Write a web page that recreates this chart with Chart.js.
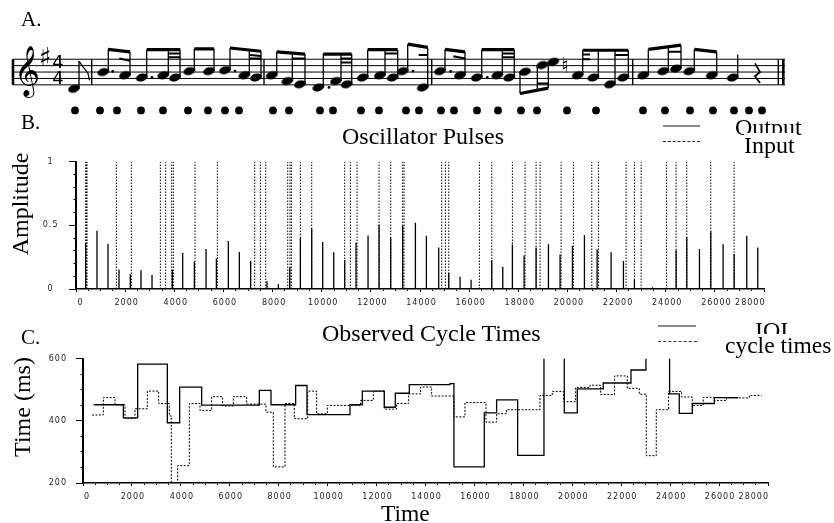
<!DOCTYPE html>
<html>
<head>
<meta charset="utf-8">
<title>Oscillator Pulses</title>
<script src="https://cdn.jsdelivr.net/npm/chart.js@4/dist/chart.umd.min.js"></script>
<style>
	html, body { margin: 0; padding: 0; background: #fff; }
	#page { position: relative; width: 834px; height: 523px; overflow: hidden; }
	canvas { position: absolute; left: 0; }
	.label { position: absolute; font-family: "Liberation Serif", serif; color: #000; white-space: nowrap; line-height: 1; }
	.swatch { position: absolute; height: 0; }
</style>
</head>
<body>
<div id="page">
	<canvas id="score" width="834" height="122" style="top:0"></canvas>
	<canvas id="pulses" width="834" height="168" style="top:145px"></canvas>
	<canvas id="cycles" width="834" height="162" style="top:345px"></canvas>
</div>
<script>

// panel B
var inputTimes = [393, 430, 448, 1642, 2252, 3433, 3650, 3894, 3962, 4844, 5753, 7273, 7503, 7720, 8616, 8711, 8765, 9132, 9593, 10936, 11167, 11438, 12334, 12808, 13297, 13351, 14885, 15034, 15170, 16418, 16920, 17761, 18277, 18725, 18887, 19742, 20244, 20991, 21262, 22388, 22727, 23000, 24030, 24423, 24857, 25834, 26784];
var outputTimes = [393, 855, 1303, 1750, 2211, 2646, 3094, 3921, 4342, 4817, 5292, 5713, 6200, 6648, 7109, 7774, 8236, 8697, 9132, 9593, 10041, 10489, 10936, 11397, 11886, 12334, 12808, 13297, 13813, 14260, 14762, 15170, 15631, 16079, 16472, 16920, 17368, 17761, 18236, 18725, 19227, 19701, 20204, 20692, 21208, 21778, 22280, 22727, 23461, 23977, 24423, 24857, 25373, 25834, 26337, 26784, 27299, 27747];
var outputAmps = [0.356, 0.457, 0.356, 0.154, 0.115, 0.147, 0.11, 0.151, 0.284, 0.214, 0.315, 0.24, 0.377, 0.29, 0.22, 0.06, 0.04, 0.17, 0.4, 0.474, 0.37, 0.288, 0.226, 0.363, 0.42, 0.505, 0.406, 0.5, 0.52, 0.418, 0.327, 0.127, 0.096, 0.072, 0.007, 0.226, 0.173, 0.349, 0.264, 0.327, 0.351, 0.272, 0.339, 0.425, 0.312, 0.288, 0.221, 0.075, 0.014, 0.007, 0.305, 0.406, 0.315, 0.452, 0.351, 0.276, 0.418, 0.327];

// panel C
var ioiTimes = [436, 1650, 2235, 3447, 3951, 4850, 7207, 7684, 8692, 9155, 10913, 11417, 12316, 12766, 13338, 15000, 15163, 16403, 16907, 17766, 18842, 19673, 20204, 21266, 22398, 23011, 23978, 24373, 24905, 25805, 26785];
var ioiValues = [452, 410, 583, 394, 509, 451, 498, 452, 514, 420, 452, 496, 444, 489, 517, 520, 252, 426, 468, 289, 720, 426, 503, 522, 564, 720, 487, 424, 456, 475, 475];
var cycleTimes = [368, 831, 1308, 1717, 2125, 2629, 3093, 3529, 3610, 3869, 4346, 4782, 5259, 5708, 6144, 6689, 7480, 7779, 8256, 8638, 9183, 9550, 9986, 10913, 11349, 11866, 12316, 12820, 13311, 13801, 14251, 15163, 15613, 16471, 16907, 17316, 18678, 19183, 19646, 20136, 20722, 21158, 21730, 22248, 22738, 23025, 23433, 23937, 24469, 24905, 25354, 25804, 26308, 27234, 27738];
var cycleValues = [419, 475, 452, 408, 439, 496, 456, 416, 150, 256, 456, 434, 478, 448, 478, 454, 428, 252, 456, 407, 496, 423, 450, 450, 466, 496, 438, 456, 487, 509, 480, 413, 459, 396, 423, 436, 482, 495, 462, 508, 515, 485, 545, 505, 486, 288, 436, 495, 477, 450, 476, 466, 474, 482, 482];

// panel A, x in score units, y in staff steps (bottom line = 0)
var onsetDots = [75, 100, 117, 141, 163, 188, 208, 225, 239, 273, 289, 320, 333, 361, 379, 406, 419, 441, 454, 477, 498, 521, 537, 567, 596, 643, 665, 690, 713, 734, 749, 762];
var noteX = [74, 103.3, 125, 141.7, 163.3, 175, 189.3, 209, 225, 244.3, 256, 271.7, 287.3, 300, 318.3, 336, 346.7, 362.7, 380, 392.7, 402.7, 422.7, 440, 460, 476.7, 497.3, 509.3, 525, 542.3, 553.3, 577.7, 593.3, 610, 623.3, 643.3, 663.3, 676, 689.3, 711.7, 732.7];
var notePos = [-1.2, 4, 3, 2.3, 3, 2.3, 4.3, 4.3, 4.6, 3, 2.3, 3, 1.2, 0.2, -0.8, 1.2, 0.2, 2.3, 3, 2.3, 4.3, -0.8, 4.3, 3, 2.3, 3, 2.3, 4.1, 6.2, 7.2, 3, 2.3, 0.2, 2.3, 3, 4.3, 5.1, 4.3, 3, 2.3];
var stemEnd = [7.4, 11.1, 10.3, 11, 11, 11, 11.25, 11.25, 11.5, 10.9, 10.5, 10.3, 10, 9.6, 9.6, 9.6, 9.6, 11, 11, 11, 12.7, 11.7, 11.1, 10.3, 11, 11, 11, -2.7, -1.6, -1, 10.8, 10.8, 10.8, 10.8, 11.1, 11.6, 12.4, 11.1, 10.3, 9.5];
var beamsMain = [[108, 11.1, 130, 10.3], [146.7, 11, 180.3, 11], [194.3, 11.25, 214, 11.25], [230, 11.5, 261, 10.5], [276.7, 10.3, 305, 9.6], [323.3, 9.6, 351.7, 9.6], [367.7, 11, 397.7, 11], [407.7, 12.7, 427.7, 11.7], [445, 11.1, 465, 10.3], [481.7, 11, 514.3, 11], [520, -2.7, 548.3, -1], [582.7, 10.8, 628.3, 10.8], [648.3, 11.1, 681, 12.4], [694.3, 11.1, 716.7, 10.3]];
var beamsSecond = [[119.3, 8.2, 130, 7.5], [168, 9.8, 180.3, 9.8], [168, 8.6, 180.3, 8.6], [250, 9.3, 261, 9], [250, 8.2, 261, 8.2], [292.3, 8.2, 305, 8.2], [341, 8.2, 351.7, 8.2], [341, 7, 351.7, 7], [385, 9.8, 397.7, 9.8], [418.7, 9.3, 427.7, 9.3], [453.3, 8.9, 465, 8.2], [502.3, 9.8, 514.3, 9.8], [502.3, 8.6, 514.3, 8.6], [537.3, 0.4, 548.3, 0.4], [582.7, 9.5, 590, 9.5], [582.7, 8, 590, 8], [615, 9.3, 628.3, 9.3], [668.3, 10.3, 681, 10.3]];
var augDotX = [112.7, 152, 235, 329, 413, 450.7, 487.3];
var augDotPos = [4.2, 2.3, 4.3, -0.8, 4.3, 4.2, 2.3];
var barlineX = [91.7, 264, 431.7, 632.7, 778.3];
var heavyBarX = [13, 783.3];
var flagX = [79, 83, 88, 89.5];
var flagPos = [7.4, 5.6, 3.6, 1.4];
var restX = [755, 760, 755, 760];
var restPos = [6.7, 4, 2.7, 0.6];
var glyphs = [
	{ text: "\uD834\uDD1E", x: 27, pos: 3.6, size: 44 },
	{ text: "\u266F", x: 45, pos: 8, size: 26 },
	{ text: "4", x: 58, pos: 6.6, size: 18 },
	{ text: "4", x: 58, pos: 1.6, size: 18 },
	{ text: "\u266E", x: 565, pos: 5.6, size: 22 }
];

var pageLabels = [
	{ text: "A.", x: 21, y: 9, size: 21 },
	{ text: "B.", x: 21, y: 112, size: 21 },
	{ text: "C.", x: 21, y: 327, size: 21 },
	{ text: "Oscillator Pulses", x: 342, y: 124, size: 24 },
	{ text: "Observed Cycle Times", x: 322, y: 321, size: 24 },
	{ text: "Output", x: 735, y: 115, size: 24 },
	{ text: "Input", x: 744, y: 133, size: 24, clear: true },
	{ text: "IOI", x: 755, y: 318, size: 24 },
	{ text: "cycle times", x: 725, y: 334, size: 23.5, clear: true },
	{ text: "Time", x: 381, y: 502, size: 23.5 },
	{ text: "Amplitude", x: 20, y: 204, size: 24, turn: true },
	{ text: "Time (ms)", x: 22, y: 407, size: 24, turn: true }
];
var legendLines = [
	{ x: 663, y: 125, w: 37, style: "2px solid #888" },
	{ x: 663, y: 141, w: 37, style: "1px dashed #222" },
	{ x: 658, y: 325, w: 38, style: "2px solid #888" },
	{ x: 658, y: 341, w: 39, style: "1px dashed #333" }
];

var TICK_FONT = { family: "'DejaVu Sans'", size: 8 };

function tallLines(xs, heights){

	var points = [];
	for (var i = 0; i < xs.length; i++) {
		points.push({ x: xs[i], y: 0 }, { x: xs[i], y: heights[i] }, { x: NaN, y: NaN });
	}
	return points;
}

function steps(xs, ys){

	return xs.map(function(x, i){ return { x: x, y: ys[i] }; });
}

function segments(list){

	var points = [];
	list.forEach(function(s){
		points.push({ x: s[0], y: s[1] }, { x: s[2], y: s[3] }, { x: NaN, y: NaN });
	});
	return points;
}

function stemSegments(){

	var list = [];
	noteX.forEach(function(x, i){
		var side = stemEnd[i] > notePos[i] ? 5 : -5;
		list.push([x + side, notePos[i], x + side, stemEnd[i]]);
	});
	return segments(list);
}

function barSegments(xs){

	return segments(xs.map(function(x){ return [x, 0, x, 8]; }));
}

function staffSegments(){

	return segments([0, 2, 4, 6, 8].map(function(p){ return [13, p, 785, p]; }));
}

function noteHead(){

	var c = document.createElement("canvas");
	c.width = 14;
	c.height = 11;
	var g = c.getContext("2d");
	g.translate(7, 5.5);
	g.rotate(-0.3);
	g.beginPath();
	g.ellipse(0, 0, 6, 3.8, 0, 0, Math.PI * 2);
	g.fill();
	return c;
}

function lineSet(points, width, dash){

	return {
		data: points,
		borderColor: "#000",
		borderWidth: width,
		borderDash: dash || [],
		pointRadius: 0,
		spanGaps: false,
		showLine: true,
		tension: 0
	};
}

// tick labels in the reference are wide and low
var wideLabels = {
	id: "wideLabels",
	beforeDraw: function(chart){ chart.ctx.letterSpacing = "1px"; }
};

var scoreGlyphs = {
	id: "scoreGlyphs",
	afterDraw: function(chart){
		var ctx = chart.ctx;
		ctx.save();
		ctx.fillStyle = "#000";
		ctx.textAlign = "center";
		ctx.textBaseline = "middle";
		glyphs.forEach(function(g){
			ctx.font = g.size + "px 'DejaVu Sans', 'Noto Sans'";
			ctx.fillText(g.text, chart.scales.x.getPixelForValue(g.x), chart.scales.y.getPixelForValue(g.pos));
		});
		ctx.restore();
	}
};

function timeAxis(labelOffset){

	return {
		type: "linear",
		min: 0,
		max: 28000,
		afterBuildTicks: function(scale){
			var ticks = [];
			for (var v = 0; v <= 28000; v += 500) ticks.push({ value: v });
			scale.ticks = ticks;
		},
		afterFit: function(scale){ scale.height = 24; },
		border: { color: "#000", width: 1.5 },
		grid: {
			drawOnChartArea: false,
			color: "#000",
			tickLength: 3,
			tickBorderDash: function(c){ return c.tick && c.tick.value % 2000 === 0 ? [] : [1.5, 9]; }
		},
		ticks: {
			autoSkip: false,
			maxRotation: 0,
			align: "inner",
			padding: 6,
			labelOffset: labelOffset,
			color: "#222",
			font: TICK_FONT,
			callback: function(v){ return v % 2000 === 0 ? String(v) : ""; }
		}
	};
}

function valueAxis(min, max, step, major, width, crossAlign, padding){

	return {
		type: "linear",
		min: min,
		max: max,
		afterBuildTicks: function(scale){
			var ticks = [];
			for (var v = min; v <= max + 1e-6; v += step) ticks.push({ value: Math.round(v * 10) / 10 });
			scale.ticks = ticks;
		},
		afterFit: function(scale){ scale.width = width; },
		border: { color: "#000", width: 2 },
		grid: {
			drawOnChartArea: false,
			color: "#000",
			tickLength: 7,
			tickBorderDash: function(c){
				var isMajor = c.tick && Math.abs(c.tick.value % major) < 1e-6;
				return isMajor ? [] : [0, 4.5, 2.5, 20];
			}
		},
		ticks: {
			autoSkip: false,
			crossAlign: crossAlign,
			padding: padding,
			color: "#222",
			font: TICK_FONT,
			callback: function(v){ return Math.abs(v % major) < 1e-6 ? String(v) : ""; }
		}
	};
}

function baseOptions(padding, xAxis, yAxis){

	return {
		responsive: false,
		animation: false,
		events: [],
		layout: { autoPadding: false, padding: padding },
		plugins: { legend: { display: false }, title: { display: false }, tooltip: { enabled: false } },
		scales: { x: xAxis, y: yAxis }
	};
}

function drawScore(){

	var heads = noteHead();
	new Chart(document.getElementById("score"), {
		type: "scatter",
		plugins: [scoreGlyphs],
		data: {
			datasets: [
				lineSet(staffSegments(), 1),
				lineSet(barSegments(barlineX), 1.4),
				lineSet(barSegments(heavyBarX), 2.6),
				lineSet(stemSegments(), 1.3),
				lineSet(segments(beamsMain), 3.2),
				lineSet(segments(beamsSecond), 2),
				lineSet(steps(flagX, flagPos), 1.2),
				lineSet(steps(restX, restPos), 1.8),
				{
					data: steps(noteX, notePos),
					pointStyle: heads,
					showLine: false
				},
				{
					data: steps(augDotX, augDotPos),
					pointRadius: 1.4,
					backgroundColor: "#000",
					borderWidth: 0,
					showLine: false
				},
				{
					// the row of dots under the staff
					data: onsetDots.map(function(x){ return { x: x, y: -8 }; }),
					pointRadius: 3.9,
					backgroundColor: "#000",
					borderWidth: 0,
					showLine: false
				}
			]
		},
		options: baseOptions(0,
			{ type: "linear", display: false, min: 0, max: 834 },
			{ type: "linear", display: false, min: -11.6, max: 26.5 })
	});
}

function drawPulses(){

	var inputHeights = inputTimes.map(function(){ return 1; });
	new Chart(document.getElementById("pulses"), {
		type: "line",
		plugins: [wideLabels],
		data: {
			datasets: [
				lineSet(tallLines(outputTimes, outputAmps), 1.3),
				lineSet(tallLines(inputTimes, inputHeights), 1, [1.5, 1.5])
			]
		},
		options: baseOptions({ top: 6, right: 70, left: 0, bottom: 0 },
			timeAxis(1.5),
			valueAxis(0, 1, 0.1, 0.5, 76, "center", 12))
	});
}

function drawCycles(){

	var ioi = lineSet(steps(ioiTimes, ioiValues), 1.3);
	ioi.stepped = "before";
	var cycle = lineSet(steps(cycleTimes, cycleValues), 1, [2, 1.5]);
	cycle.stepped = "before";
	new Chart(document.getElementById("cycles"), {
		type: "line",
		plugins: [wideLabels],
		data: { datasets: [ioi, cycle] },
		options: baseOptions({ top: 7, right: 66, left: 0, bottom: 0 },
			timeAxis(1),
			valueAxis(200, 600, 50, 200, 83, "near", 9))
	});
}

function drawLabels(){

	var page = document.getElementById("page");
	legendLines.forEach(function(l){
		var d = document.createElement("div");
		d.className = "swatch";
		d.style.cssText = "left:" + l.x + "px;top:" + l.y + "px;width:" + l.w + "px;border-top:" + l.style;
		page.appendChild(d);
	});
	pageLabels.forEach(function(l){
		var d = document.createElement("div");
		d.className = "label";
		d.textContent = l.text;
		d.style.fontSize = l.size + "px";
		d.style.left = l.x + "px";
		d.style.top = l.y + "px";
		if (l.clear) d.style.background = "#fff";
		if (l.turn) d.style.transform = "translate(-50%, -50%) rotate(-90deg)";
		page.appendChild(d);
	});
}

drawScore();
drawPulses();
drawCycles();
drawLabels();

</script>
</body>
</html>
